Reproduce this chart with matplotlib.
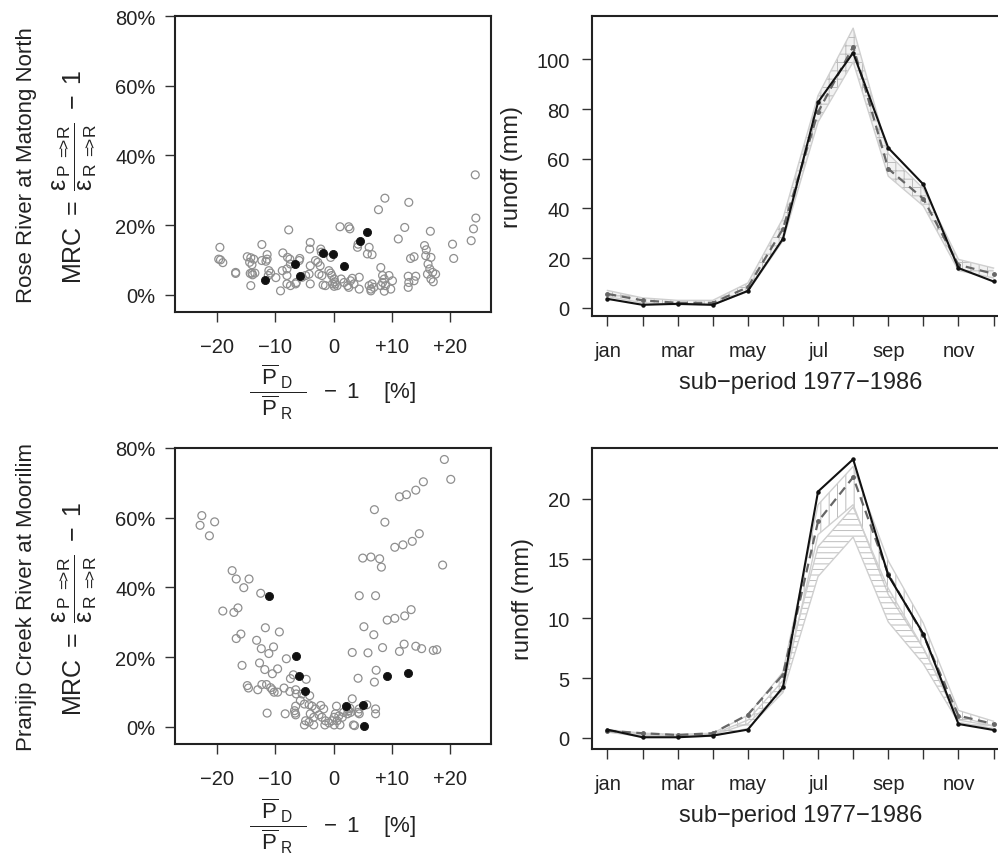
import numpy as np
import matplotlib
matplotlib.use('Agg')
from matplotlib import pyplot as plt

plt.rcParams['font.family'] = ['Liberation Sans', 'DejaVu Sans']
plt.rcParams['mathtext.fontset'] = 'custom'
plt.rcParams['mathtext.rm'] = 'Liberation Sans'
plt.rcParams['mathtext.it'] = 'Liberation Sans'
plt.rcParams['mathtext.bf'] = 'Liberation Sans'
plt.rcParams['hatch.linewidth'] = 0.7

# ---------------- data: Rose River at Matong North (MRC scatter, %)
rose_grey_x = [-19.5, -19.7, -19.4, -19.0, -16.8, -16.8, -14.8, -14.2, -13.7, -14.4, -14.0,
               -14.3, -14.0, -13.5, -13.9, -14.2, -12.3, -11.4, -11.4, -11.6, -12.3,
               -11.1, -10.8, -11.2, -9.9, -9.1, -8.7, -7.7, -7.9, -7.5, -7.4, -8.8, -8.0,
               -8.0, -8.0, -7.4, -6.5, -6.4, -5.8, -5.9, -5.4, -4.8, -4.0, -4.1,
               -4.0, -4.2, -4.0, -3.1, -2.7, -2.3, -2.5, -2.0, -1.8, -1.4, -2.2, -2.1,
               -0.8, -0.5, -0.3, -0.5, 0.1, 0.2, 0.3, 0.6, -0.2, 0.1,
               1.1, 2.6, 2.8, 1.3, 1.8, 2.4, 2.6, 2.9, 3.2, 3.5,
               4.1, 4.2, 4.4, 4.4, 6.1, 5.8, 6.6, 6.1, 6.4, 6.4, 6.9, 6.6,
               7.7, 8.8, 8.1, 8.4, 8.7, 8.4, 8.9, 8.7, 8.1, 9.5, 10.1, 9.8,
               11.1, 12.2, 12.9, 12.8, 12.9, 12.8, 13.2, 13.8, 14.1, 13.8,
               15.6, 15.9, 15.8, 16.6, 16.7, 16.2, 16.5, 16.1, 17.0, 17.5, 16.7, 17.1,
               20.4, 20.6, 23.6, 24.0, 24.4, 24.3]
rose_grey_y = [13.6, 10.2, 10.0, 9.2, 6.4, 6.1, 10.9, 10.6, 10.2, 9.3, 8.6,
               6.1, 6.2, 6.2, 5.7, 2.6, 14.4, 11.5, 10.2, 9.6, 9.8,
               6.9, 6.2, 5.5, 4.9, 1.1, 12.0, 18.6, 10.7, 10.2, 8.8, 6.9, 7.4,
               5.5, 3.1, 2.6, 3.1, 3.5, 10.4, 9.8, 5.0, 5.5, 15.0, 13.1,
               8.3, 5.9, 3.1, 9.8, 9.3, 8.3, 5.9, 5.5, 2.8, 2.6, 13.1, 12.2,
               6.9, 6.2, 5.5, 10.7, 4.5, 3.7, 3.1, 2.6, 3.1, 2.4,
               19.5, 19.5, 18.9, 4.5, 3.5, 2.6, 2.1, 4.0, 4.7, 3.1,
               13.6, 14.5, 5.0, 1.6, 13.6, 11.7, 11.5, 2.6, 1.6, 1.1, 2.1, 3.1,
               24.4, 27.7, 7.8, 5.5, 4.5, 3.5, 2.6, 1.0, 2.6, 5.5, 4.0, 1.6,
               16.0, 19.3, 26.5, 5.3, 3.5, 2.1, 10.4, 10.9, 5.3, 4.0,
               14.1, 12.9, 11.2, 18.2, 10.7, 8.8, 7.4, 5.9, 6.4, 5.9, 4.5, 3.7,
               14.5, 10.4, 15.5, 18.9, 22.0, 34.4]
rose_black_x = [-11.7, -6.7, -5.8, -1.9, -0.1, 1.8, 4.6, 5.7]
rose_black_y = [4.2, 8.8, 5.3, 12.0, 11.7, 8.1, 15.3, 17.9]

# ---------------- data: Pranjip Creek River at Moorilim (MRC scatter, %)
pran_grey_x = [-22.9, -22.6, -21.3, -20.4, -19.0, -17.1, -16.4, -17.4, -16.7, -15.4, -14.5,
               -16.7, -15.9, -15.7, -14.8, -14.6, -13.0, -12.5, -13.2, -12.4, -11.1, -11.7,
               -9.3, -10.3, -12.7, -11.8, -10.5, -9.6, -12.3, -11.5, -10.8, -10.5, -10.2, -9.6,
               -11.4, -8.3, -8.1, -8.5, -7.5, -6.5, -6.4, -5.4, -4.1, -7.4, -6.9, -4.7,
               -6.7, -6.5, -6.6, -6.5, -5.7, -5.0, -4.2, -3.7, -3.1, -2.2, -1.7,
               -4.8, -5.0, -4.2, -3.4, -4.0, -3.4, -2.5, -2.0, -1.4, -1.5, -0.8, -0.3, 0.1,
               0.1, 0.3, 0.6, 0.9, 1.1, 1.5, 1.7, 2.4, 2.4, 2.6, 2.9, 2.8,
               0.5, 3.2, 3.4, 3.6, 4.4, 4.2, 4.4, 5.7, 7.2, 7.2,
               3.2, 4.2, 5.9, 7.0, 7.3, 5.2, 6.9, 8.4, 4.4, 7.2,
               9.2, 10.5, 12.2, 13.3, 11.3, 12.1, 14.1, 15.1, 17.1, 17.7,
               5.0, 6.4, 7.9, 8.2, 7.0, 8.8, 10.5, 11.9, 13.5, 14.7,
               11.3, 12.5, 14.1, 15.4, 19.0, 20.1, 18.7]
pran_grey_y = [57.8, 60.6, 54.8, 58.8, 33.2, 32.8, 34.1, 44.8, 42.4, 39.9, 42.4,
               25.3, 26.6, 17.6, 11.8, 11.1, 10.6, 38.3, 24.8, 22.4, 21.0, 28.4,
               27.2, 22.9, 18.3, 16.4, 15.2, 16.6, 12.1, 12.1, 11.2, 10.6, 9.9, 9.9,
               3.9, 3.7, 19.5, 11.1, 10.1, 10.6, 9.4, 9.4, 8.9, 13.8, 14.9, 13.6,
               4.6, 3.4, 3.9, 5.9, 7.5, 6.5, 6.3, 5.9, 5.1, 6.1, 5.1,
               1.7, 0.5, 1.3, 0.5, 3.7, 2.7, 3.4, 2.7, 1.7, 0.5, 1.1, 1.7, 2.7,
               0.5, 3.7, 1.7, 3.1, 0.5, 2.7, 4.1, 3.7, 5.1, 4.6, 4.1, 5.3,
               5.9, 8.0, 0.5, 0.3, 5.1, 4.1, 3.7, 6.3, 5.1, 3.7,
               21.3, 13.9, 21.2, 12.8, 16.2, 28.7, 26.4, 22.7, 37.6, 37.6,
               30.6, 31.1, 31.8, 33.6, 21.6, 23.7, 23.1, 22.4, 21.9, 22.1,
               48.4, 48.7, 48.2, 45.8, 62.3, 58.7, 51.5, 52.2, 53.2, 55.4,
               66.0, 66.6, 67.9, 70.3, 76.7, 71.0, 46.4]
pran_black_x = [-11.0, -6.5, -6.0, -4.9, 2.2, 5.0, 5.2, 9.2, 12.8]
pran_black_y = [37.6, 20.3, 14.5, 10.2, 5.9, 6.3, 0.3, 14.5, 15.4]

# ---------------- data: monthly runoff (mm), sub-period 1977-1986
months = np.arange(1, 13)
month_labels = ['jan', '', 'mar', '', 'may', '', 'jul', '', 'sep', '', 'nov', '']

rose_obs = [3.6, 1.2, 1.6, 1.2, 6.8, 27.8, 82.8, 102.7, 64.4, 49.7, 16.0, 10.6]
rose_sim = [5.6, 3.0, 2.0, 2.0, 8.3, 31.8, 78.8, 105.2, 56.0, 43.9, 17.3, 13.7]
rose_band_hi = [7.0, 4.0, 3.0, 3.0, 10.0, 36.0, 85.5, 112.6, 62.0, 48.0, 19.5, 16.0]
rose_band_lo = [4.5, 2.0, 1.2, 1.2, 6.5, 27.0, 74.8, 99.0, 53.0, 41.0, 15.0, 12.0]

pran_obs = [0.7, 0.06, 0.06, 0.2, 0.7, 4.24, 20.6, 23.3, 13.6, 8.7, 1.17, 0.67]
pran_sim = [0.6, 0.4, 0.25, 0.4, 1.95, 5.3, 18.1, 21.8, 13.7, 8.6, 1.87, 1.17]
pran_up_hi = [0.7, 0.4, 0.3, 0.4, 1.9, 5.5, 19.5, 22.7, 14.8, 9.6, 2.3, 1.4]
pran_up_lo = [0.5, 0.25, 0.15, 0.25, 1.2, 4.0, 17.0, 19.5, 12.0, 7.5, 1.5, 1.0]
pran_lo_hi = [0.6, 0.3, 0.2, 0.3, 1.5, 4.8, 16.0, 19.3, 12.5, 7.5, 1.8, 1.0]
pran_lo_lo = [0.5, 0.1, 0.05, 0.15, 0.8, 3.8, 13.5, 16.8, 9.7, 6.2, 1.3, 0.8]

W, H = 998, 854
fig = plt.figure(figsize=(W / 100, H / 100), dpi=100)

mrc_label = (r'$\mathrm{MRC}\ =\ \dfrac{\mathrm{ε}_{\,\mathrm{P}\;{=}\!\!\!{>}\!\mathrm{R}}}'
             r'{\mathrm{ε}_{\,\mathrm{R}\;{=}\!\!\!{>}\!\mathrm{R}}}\ -\ 1$')
pd_label = (r'$\dfrac{\ \ \overline{\mathrm{P}}_{\ \mathrm{D}}\ \ }'
            r'{\ \ \overline{\mathrm{P}}_{\ \mathrm{R}}\ \ }\ \ -\ 1\ \ \ \ [\%]$')


def px_axes(l, t, r, b):
    return fig.add_axes([l / W, 1 - b / H, (r - l) / W, (b - t) / H])


def style(ax):
    for s in ax.spines.values():
        s.set_linewidth(1.5)
        s.set_color('#222222')
    ax.tick_params(direction='out', length=7, width=1.0, color='#333333',
                   labelsize=14.5, labelcolor='#222222')
    ax.tick_params(axis='x', pad=11)
    ax.tick_params(axis='y', pad=7)


def scatter_panel(ax, gx, gy, bx, by, name, xlab_y):
    ax.scatter(gx, gy, s=32, facecolors='none', edgecolors='#8f8f8f', linewidths=0.9, zorder=2)
    ax.scatter(bx, by, s=34, facecolors='#111111', edgecolors='#111111', linewidths=0.6, zorder=3)
    ax.set_xlim(-27.2, 27.0)
    ax.set_ylim(-4.97, 80)
    ax.set_xticks([-20, -10, 0, 10, 20])
    ax.set_xticklabels(['\u221220', '\u221210', '0', '+10', '+20'])
    ax.set_yticks([0, 20, 40, 60, 80])
    ax.set_yticklabels(['0%', '20%', '40%', '60%', '80%'])
    style(ax)
    ax.text(-0.47, 0.5, name, transform=ax.transAxes, rotation=90,
            ha='center', va='center', fontsize=16, color='#222222')
    ax.text(-0.318, 0.46, mrc_label, transform=ax.transAxes, rotation=90,
            ha='center', va='center', fontsize=18, color='#222222')
    ax.text(0.5, xlab_y, pd_label, transform=ax.transAxes, ha='center', va='center',
            fontsize=16, color='#222222')


def band(ax, lo, hi, hatch, face='none'):
    ax.fill_between(months, lo, hi, facecolor=face, edgecolor='#bdbdbd', hatch=hatch,
                    linewidth=0, zorder=1)
    ax.plot(months, lo, color='#cfcfcf', linewidth=1.0, zorder=1)
    ax.plot(months, hi, color='#cfcfcf', linewidth=1.0, zorder=1)


def runoff_panel(ax, obs, sim, ylim, yticks):
    ax.plot(months, sim, color='#666666', linewidth=1.6, linestyle=(0, (4, 2.5)),
            marker='o', markersize=2.5, zorder=3)
    ax.plot(months, obs, color='#111111', linewidth=1.5, marker='o', markersize=2.2, zorder=4)
    ax.set_xlim(0.56, 12.44)
    ax.set_ylim(*ylim)
    ax.set_xticks(months)
    ax.set_xticklabels(month_labels)
    ax.set_yticks(yticks)
    style(ax)
    ax.tick_params(axis='y', pad=9)
    ax.set_ylabel('runoff (mm)', fontsize=17, color='#222222', labelpad=10)
    ax.set_xlabel('sub\u2212period 1977\u22121986', fontsize=17, color='#222222', labelpad=8)


# top-left
ax1 = px_axes(175, 17, 491, 313)
scatter_panel(ax1, rose_grey_x, rose_grey_y, rose_black_x, rose_black_y,
              'Rose River at Matong North', -0.27)

# bottom-left
ax3 = px_axes(175, 449, 491, 745)
scatter_panel(ax3, pran_grey_x, pran_grey_y, pran_black_x, pran_black_y,
              'Pranjip Creek River at Moorilim', -0.275)

# top-right
ax2 = px_axes(592, 17, 1009, 317)
band(ax2, rose_band_lo, rose_band_hi, '++', face='#f2f2f2')
runoff_panel(ax2, rose_obs, rose_sim, (-3.3, 117.5), [0, 20, 40, 60, 80, 100])

# bottom-right
ax4 = px_axes(592, 449, 1009, 750)
band(ax4, pran_up_lo, pran_up_hi, '||')
band(ax4, pran_lo_lo, pran_lo_hi, '---')
runoff_panel(ax4, pran_obs, pran_sim, (-0.92, 24.24), [0, 5, 10, 15, 20])

fig.savefig('out.png', dpi=100)
